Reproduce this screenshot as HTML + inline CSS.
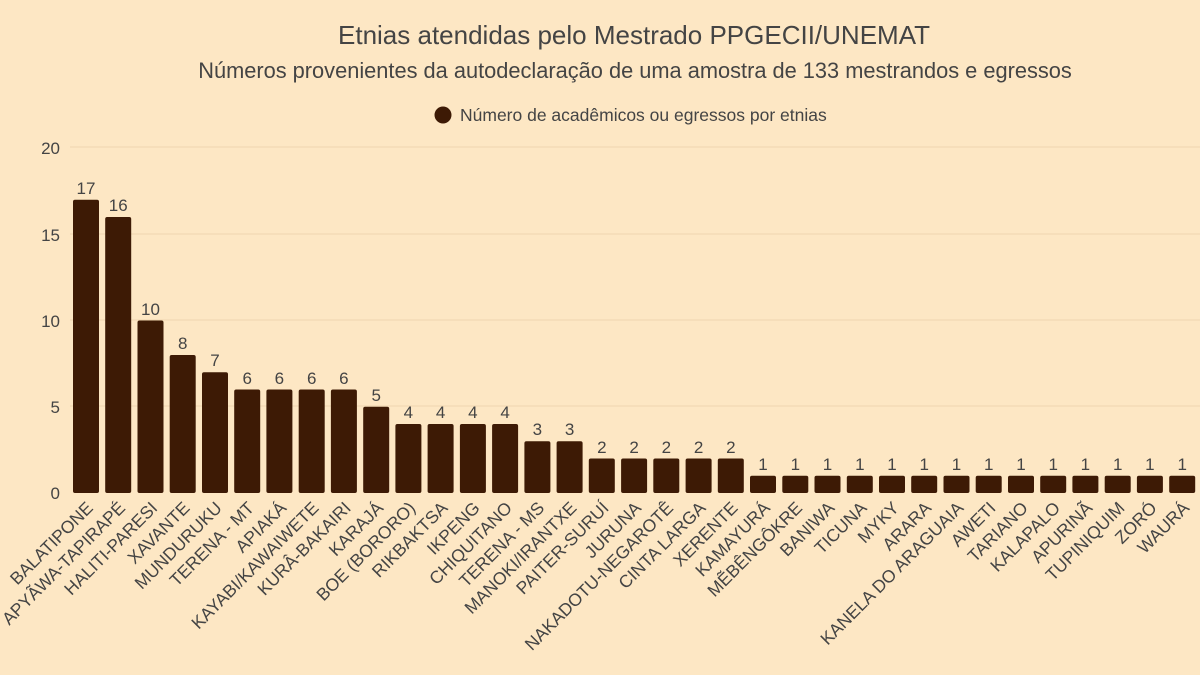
<!DOCTYPE html>
<html><head><meta charset="utf-8"><style>
html,body{margin:0;padding:0;background:#fde7c4;}
svg{display:block;font-family:"Liberation Sans",Arial,sans-serif;}
.v{font-size:17px;fill:#444;text-anchor:middle}
.l{font-size:17.5px;fill:#444;text-anchor:end}
.y{font-size:17px;fill:#444;text-anchor:end}
</style></head><body>
<svg width="1200" height="675" viewBox="0 0 1200 675">
<rect width="1200" height="675" fill="#fde7c4"/>
<text x="634" y="44" font-size="26" fill="#444" text-anchor="middle">Etnias atendidas pelo Mestrado PPGECII/UNEMAT</text>
<text x="635" y="78" font-size="21.8" fill="#444" text-anchor="middle">Números provenientes da autodeclaração de uma amostra de 133 mestrandos e egressos</text>
<circle cx="443" cy="115" r="8.5" fill="#3d1a05"/>
<text x="460" y="121" font-size="17.5" fill="#444">Número de acadêmicos ou egressos por etnias</text>
<g stroke="#f0d6b0" stroke-width="1">
<line x1="70" x2="1200" y1="147" y2="147"/><line x1="70" x2="1200" y1="234" y2="234"/><line x1="70" x2="1200" y1="320" y2="320"/><line x1="70" x2="1200" y1="406" y2="406"/>
</g>
<text class="y" x="60" y="154">20</text><text class="y" x="60" y="241">15</text><text class="y" x="60" y="327">10</text><text class="y" x="60" y="413">5</text><text class="y" x="60" y="499">0</text>
<g fill="#3d1a05">
<rect x="73" y="199.7" width="26" height="293.3" rx="2"/>
<rect x="105.2" y="217" width="26" height="276" rx="2"/>
<rect x="137.5" y="320.5" width="26" height="172.5" rx="2"/>
<rect x="169.7" y="355" width="26" height="138" rx="2"/>
<rect x="202" y="372.25" width="26" height="120.75" rx="2"/>
<rect x="234.2" y="389.5" width="26" height="103.5" rx="2"/>
<rect x="266.4" y="389.5" width="26" height="103.5" rx="2"/>
<rect x="298.7" y="389.5" width="26" height="103.5" rx="2"/>
<rect x="330.9" y="389.5" width="26" height="103.5" rx="2"/>
<rect x="363.2" y="406.75" width="26" height="86.25" rx="2"/>
<rect x="395.4" y="424" width="26" height="69" rx="2"/>
<rect x="427.6" y="424" width="26" height="69" rx="2"/>
<rect x="459.9" y="424" width="26" height="69" rx="2"/>
<rect x="492.1" y="424" width="26" height="69" rx="2"/>
<rect x="524.4" y="441.25" width="26" height="51.75" rx="2"/>
<rect x="556.6" y="441.25" width="26" height="51.75" rx="2"/>
<rect x="588.8" y="458.5" width="26" height="34.5" rx="2"/>
<rect x="621.1" y="458.5" width="26" height="34.5" rx="2"/>
<rect x="653.3" y="458.5" width="26" height="34.5" rx="2"/>
<rect x="685.6" y="458.5" width="26" height="34.5" rx="2"/>
<rect x="717.8" y="458.5" width="26" height="34.5" rx="2"/>
<rect x="750" y="475.75" width="26" height="17.25" rx="2"/>
<rect x="782.3" y="475.75" width="26" height="17.25" rx="2"/>
<rect x="814.5" y="475.75" width="26" height="17.25" rx="2"/>
<rect x="846.8" y="475.75" width="26" height="17.25" rx="2"/>
<rect x="879" y="475.75" width="26" height="17.25" rx="2"/>
<rect x="911.2" y="475.75" width="26" height="17.25" rx="2"/>
<rect x="943.5" y="475.75" width="26" height="17.25" rx="2"/>
<rect x="975.7" y="475.75" width="26" height="17.25" rx="2"/>
<rect x="1008" y="475.75" width="26" height="17.25" rx="2"/>
<rect x="1040.2" y="475.75" width="26" height="17.25" rx="2"/>
<rect x="1072.4" y="475.75" width="26" height="17.25" rx="2"/>
<rect x="1104.7" y="475.75" width="26" height="17.25" rx="2"/>
<rect x="1136.9" y="475.75" width="26" height="17.25" rx="2"/>
<rect x="1169.2" y="475.75" width="26" height="17.25" rx="2"/>
</g>
<g>
<text class="v" x="86" y="194">17</text>
<text class="v" x="118.2" y="211">16</text>
<text class="v" x="150.5" y="315">10</text>
<text class="v" x="182.7" y="349">8</text>
<text class="v" x="215" y="366">7</text>
<text class="v" x="247.2" y="384">6</text>
<text class="v" x="279.4" y="384">6</text>
<text class="v" x="311.7" y="384">6</text>
<text class="v" x="343.9" y="384">6</text>
<text class="v" x="376.2" y="401">5</text>
<text class="v" x="408.4" y="418">4</text>
<text class="v" x="440.6" y="418">4</text>
<text class="v" x="472.9" y="418">4</text>
<text class="v" x="505.1" y="418">4</text>
<text class="v" x="537.4" y="435">3</text>
<text class="v" x="569.6" y="435">3</text>
<text class="v" x="601.8" y="453">2</text>
<text class="v" x="634.1" y="453">2</text>
<text class="v" x="666.3" y="453">2</text>
<text class="v" x="698.6" y="453">2</text>
<text class="v" x="730.8" y="453">2</text>
<text class="v" x="763" y="470">1</text>
<text class="v" x="795.3" y="470">1</text>
<text class="v" x="827.5" y="470">1</text>
<text class="v" x="859.8" y="470">1</text>
<text class="v" x="892" y="470">1</text>
<text class="v" x="924.2" y="470">1</text>
<text class="v" x="956.5" y="470">1</text>
<text class="v" x="988.7" y="470">1</text>
<text class="v" x="1021" y="470">1</text>
<text class="v" x="1053.2" y="470">1</text>
<text class="v" x="1085.4" y="470">1</text>
<text class="v" x="1117.7" y="470">1</text>
<text class="v" x="1149.9" y="470">1</text>
<text class="v" x="1182.2" y="470">1</text>
</g>
<g>
<text class="l" transform="translate(94,509) rotate(-45)">BALATIPONE</text>
<text class="l" transform="translate(126.2,509) rotate(-45)">APYÃWA-TAPIRAPÉ</text>
<text class="l" transform="translate(158.5,509) rotate(-45)">HALITI-PARESI</text>
<text class="l" transform="translate(190.7,509) rotate(-45)">XAVANTE</text>
<text class="l" transform="translate(223,509) rotate(-45)">MUNDURUKU</text>
<text class="l" transform="translate(255.2,509) rotate(-45)">TERENA - MT</text>
<text class="l" transform="translate(287.4,509) rotate(-45)">APIAKÁ</text>
<text class="l" transform="translate(319.7,509) rotate(-45)">KAYABI/KAWAIWETE</text>
<text class="l" transform="translate(351.9,509) rotate(-45)">KURÂ-BAKAIRI</text>
<text class="l" transform="translate(384.2,509) rotate(-45)">KARAJÁ</text>
<text class="l" transform="translate(416.4,509) rotate(-45)">BOE (BORORO)</text>
<text class="l" transform="translate(448.6,509) rotate(-45)">RIKBAKTSA</text>
<text class="l" transform="translate(480.9,509) rotate(-45)">IKPENG</text>
<text class="l" transform="translate(513.1,509) rotate(-45)">CHIQUITANO</text>
<text class="l" transform="translate(545.4,509) rotate(-45)">TERENA - MS</text>
<text class="l" transform="translate(577.6,509) rotate(-45)">MANOKI/IRANTXE</text>
<text class="l" transform="translate(609.8,509) rotate(-45)">PAITER-SURUÍ</text>
<text class="l" transform="translate(642.1,509) rotate(-45)">JURUNA</text>
<text class="l" transform="translate(674.3,509) rotate(-45)">NAKADOTU-NEGAROTÊ</text>
<text class="l" transform="translate(706.6,509) rotate(-45)">CINTA LARGA</text>
<text class="l" transform="translate(738.8,509) rotate(-45)">XERENTE</text>
<text class="l" transform="translate(771,509) rotate(-45)">KAMAYURÁ</text>
<text class="l" transform="translate(803.3,509) rotate(-45)">MẼBÊNGÔKRE</text>
<text class="l" transform="translate(835.5,509) rotate(-45)">BANIWA</text>
<text class="l" transform="translate(867.8,509) rotate(-45)">TICUNA</text>
<text class="l" transform="translate(900,509) rotate(-45)">MYKY</text>
<text class="l" transform="translate(932.2,509) rotate(-45)">ARARA</text>
<text class="l" transform="translate(964.5,509) rotate(-45)">KANELA DO ARAGUAIA</text>
<text class="l" transform="translate(996.7,509) rotate(-45)">AWETI</text>
<text class="l" transform="translate(1029,509) rotate(-45)">TARIANO</text>
<text class="l" transform="translate(1061.2,509) rotate(-45)">KALAPALO</text>
<text class="l" transform="translate(1093.4,509) rotate(-45)">APURINÃ</text>
<text class="l" transform="translate(1125.7,509) rotate(-45)">TUPINIQUIM</text>
<text class="l" transform="translate(1157.9,509) rotate(-45)">ZORÓ</text>
<text class="l" transform="translate(1190.2,509) rotate(-45)">WAURÁ</text>
</g>
</svg>
</body></html>
